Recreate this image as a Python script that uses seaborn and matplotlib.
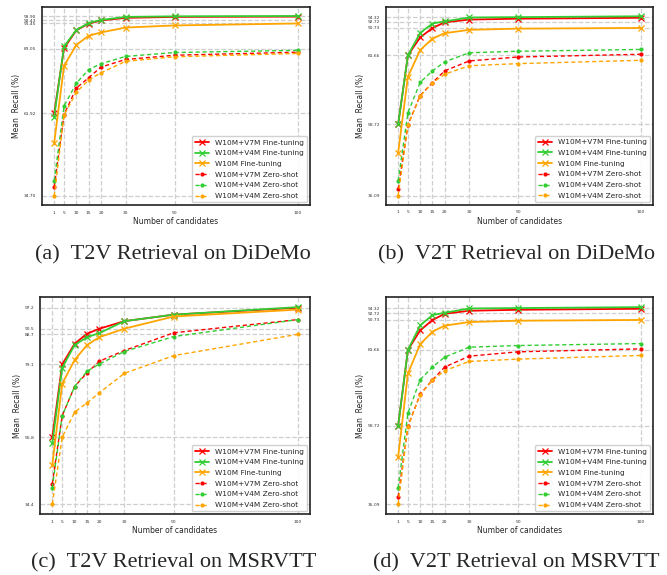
import matplotlib
matplotlib.use("Agg")
import matplotlib.pyplot as plt
import numpy as np
import pandas as pd
import seaborn as sns

# candidates on the x axis
candidates = [1, 5, 10, 15, 20, 30, 50, 100]

labels = ["W10M+V7M Fine-tuning", "W10M+V4M Fine-tuning", "W10M Fine-tuning",
          "W10M+V7M Zero-shot", "W10M+V4M Zero-shot", "W10M+V4M Zero-shot"]

# (a) T2V DiDeMo
t2v_didemo_v7m_ft = [61.92, 83.3, 89.2, 91.4, 92.43, 93.3, 93.6, 93.7]
t2v_didemo_v4m_ft = [60.8, 83.9, 89.3, 91.6, 92.6, 93.6, 93.8, 93.90]
t2v_didemo_w10m_ft = [52.2, 77.5, 84.4, 87.4, 88.5, 90.1, 90.8, 91.45]
t2v_didemo_v7m_zs = [37.7, 61.5, 70.2, 73.6, 77.1, 79.6, 81.0, 82.0]
t2v_didemo_v4m_zs = [39.7, 64.3, 71.8, 76.3, 78.2, 80.6, 81.9, 82.6]
t2v_didemo_w10m_zs = [34.70, 61.3, 68.8, 72.9, 75.2, 79.0, 80.5, 81.6]
t2v_didemo_yticks = [34.70, 61.92, 83.05, 91.45, 92.43, 93.90]
t2v_didemo_yticklabels = ["34.70", "61.92", "83.05", "91.45", "92.43", "93.90"]

# (b)/(d) V2T retrieval
v2t_v7m_ft = [58.72, 81.66, 87.6, 90.7, 92.6, 93.5, 93.8, 94.1]
v2t_v4m_ft = [58.72, 81.66, 89.1, 92.2, 92.9, 94.2, 94.32, 94.6]
v2t_w10m_ft = [49.3, 74.6, 83.4, 87.2, 89.0, 90.1, 90.5, 90.73]
v2t_v7m_zs = [37.2, 58.6, 68.3, 72.6, 76.5, 79.8, 81.1, 82.0]
v2t_v4m_zs = [40.0, 62.6, 72.7, 76.5, 79.5, 82.5, 83.0, 83.6]
v2t_w10m_zs = [35.09, 58.5, 68.2, 72.5, 75.4, 78.2, 78.9, 80.0]
v2t_yticks = [35.09, 58.72, 81.66, 90.73, 92.72, 94.32]
v2t_yticklabels = ["35.09", "58.72", "81.66", "90.73", "92.72", "94.32"]

# (c) T2V MSRVTT
t2v_msrvtt_v7m_ft = [55.8, 79.1, 85.7, 88.9, 90.5, 92.9, 95.0, 97.2]
t2v_msrvtt_v4m_ft = [53.8, 78.0, 85.3, 87.8, 89.1, 92.9, 95.0, 97.4]
t2v_msrvtt_w10m_ft = [47.0, 72.9, 80.5, 85.3, 87.8, 90.5, 94.4, 96.6]
t2v_msrvtt_v7m_zs = [41.0, 62.7, 72.0, 76.4, 80.1, 83.5, 89.2, 93.4]
t2v_msrvtt_v4m_zs = [39.7, 62.7, 72.0, 76.9, 79.2, 83.2, 88.0, 93.4]
t2v_msrvtt_w10m_zs = [34.4, 55.8, 63.8, 66.8, 70.0, 76.2, 81.9, 88.7]
t2v_msrvtt_yticks = [34.4, 55.8, 79.1, 88.7, 90.5, 97.2]
t2v_msrvtt_yticklabels = ["34.4", "55.8", "79.1", "88.7", "90.5", "97.2"]

captions = ["(a)  T2V Retrieval on DiDeMo", "(b)  V2T Retrieval on DiDeMo",
            "(c)  T2V Retrieval on MSRVTT", "(d)  V2T Retrieval on MSRVTT"]

colors = ["red", "limegreen", "orange", "red", "limegreen", "orange"]

sns.set_theme(style="white")
plt.rcParams["font.family"] = ["DejaVu Sans"]

fig = plt.figure(figsize=(6.67, 5.75), dpi=100)

panels = [
    ([0.063, 0.6435, 0.4018, 0.3443],
     [t2v_didemo_v7m_ft, t2v_didemo_v4m_ft, t2v_didemo_w10m_ft,
      t2v_didemo_v7m_zs, t2v_didemo_v4m_zs, t2v_didemo_w10m_zs],
     t2v_didemo_yticks, t2v_didemo_yticklabels, (0.259, 0.556)),
    ([0.5787, 0.644, 0.4003, 0.3433],
     [v2t_v7m_ft, v2t_v4m_ft, v2t_w10m_ft, v2t_v7m_zs, v2t_v4m_zs, v2t_w10m_zs],
     v2t_yticks, v2t_yticklabels, (0.775, 0.556)),
    ([0.06, 0.1061, 0.4048, 0.3769],
     [t2v_msrvtt_v7m_ft, t2v_msrvtt_v4m_ft, t2v_msrvtt_w10m_ft,
      t2v_msrvtt_v7m_zs, t2v_msrvtt_v4m_zs, t2v_msrvtt_w10m_zs],
     t2v_msrvtt_yticks, t2v_msrvtt_yticklabels, (0.261, 0.021)),
    ([0.5787, 0.1061, 0.4003, 0.3769],
     [v2t_v7m_ft, v2t_v4m_ft, v2t_w10m_ft, v2t_v7m_zs, v2t_v4m_zs, v2t_w10m_zs],
     v2t_yticks, v2t_yticklabels, (0.774, 0.021)),
]

for i, (rect, series, yt, ytl, cap_pos) in enumerate(panels):
    ax = fig.add_axes(rect)
    for j, vals in enumerate(series):
        df = pd.DataFrame({"cand": candidates, "recall": vals})
        sns.lineplot(data=df, x="cand", y="recall", ax=ax, color=colors[j],
                     label=labels[j])
        ln = ax.lines[-1]
        # force the style on the drawn line
        if j < 3:
            ln.set_linestyle("-")
            ln.set_linewidth(1.3)
            ln.set_marker("x")
            ln.set_markersize(4.5)
            ln.set_markeredgewidth(0.9)
        else:
            ln.set_linestyle((0, (3, 2)))
            ln.set_linewidth(1.0)
            ln.set_marker("o")
            ln.set_markersize(3)
            ln.set_markeredgewidth(0)
        ln.set_markerfacecolor(colors[j])
        ln.set_markeredgecolor(colors[j])
    ax.set_xticks(candidates)
    ax.set_xticklabels([str(c) for c in candidates], fontsize=3.2)
    ax.set_yticks(yt)
    ax.set_yticklabels(ytl, fontsize=3.2)
    ax.grid(True, linestyle="--", color="#cfcfcf", linewidth=0.9)
    ax.tick_params(axis="both", length=2, width=0.6, pad=2, colors="#333333")
    for sp in ax.spines.values():
        sp.set_color("#222222")
        sp.set_linewidth(1.2)
    ax.set_xlabel("Number of candidates", fontsize=5.5, labelpad=2)
    ax.set_ylabel("Mean  Recall (%)", fontsize=5.5, labelpad=2)
    ax.legend(loc="lower right", fontsize=5.3, frameon=True, borderaxespad=0.4,
              handlelength=2.0, labelspacing=0.62, framealpha=0.9)
    fig.text(cap_pos[0], cap_pos[1], captions[i], ha="center", va="center",
             fontsize=16, family="Liberation Serif")

fig.savefig("out.png", dpi=100)
